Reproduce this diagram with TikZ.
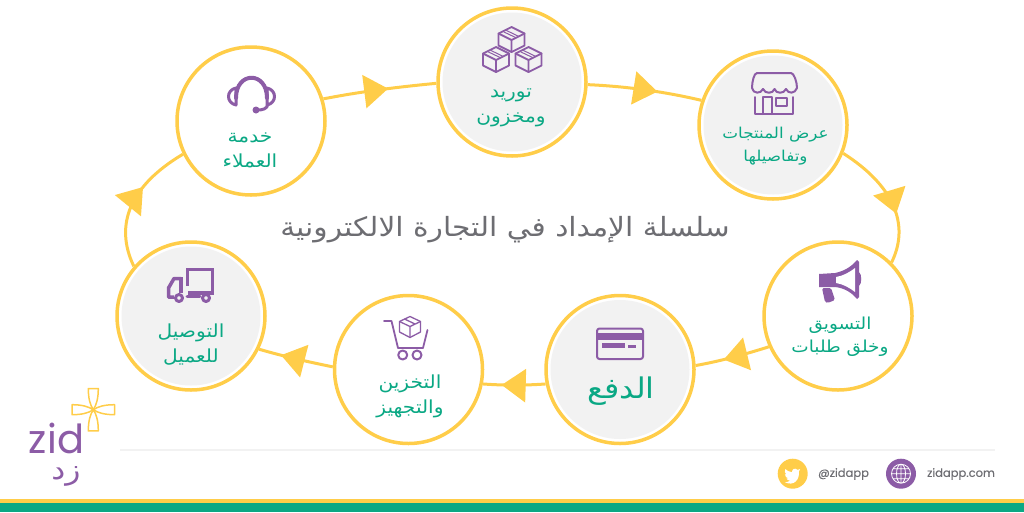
\documentclass[tikz,border=0pt]{standalone}
\usepackage{fontspec}
\usepackage{xcolor}
\usepackage{tikz}
\usetikzlibrary{arrows.meta, decorations.markings}
\newfontfamily\arabicfont[Script=Arabic,FakeStretch=1.12]{DejaVu Sans}
\newfontfamily\latinfont{Poppins}
\newfontfamily\footerfont[FakeBold=0.3]{Poppins}
\TeXXeTstate=1
\newcommand{\arline}[1]{\beginR #1\endR}
\definecolor{gold}{RGB}{255,205,73}
\definecolor{plum}{RGB}{140,92,166}
\definecolor{jade}{RGB}{10,168,132}
\definecolor{softgrey}{RGB}{242,242,242}
\definecolor{slate}{RGB}{109,109,114}
\tikzset{
  stage/.style={circle, draw=gold, line width=3.5pt, fill=white, minimum size=148pt, inner sep=0pt},
  stagelabel/.style={jade, align=center, inner sep=0pt, font=\arabicfont\fontsize{18}{25}\selectfont},
  link/.style={draw=gold, line width=3pt},
  flow/.style={postaction={decorate, decoration={markings, mark=at position #1 with {\arrow[gold]{Triangle[length=24pt,width=33pt]}}}}},
  iconline/.style={draw=plum, line width=2pt, line join=round, line cap=round},
  crate/.pic={
    \draw[iconline, line width=1.8pt] (0,-12.5) -- (13,-6) -- (13,6) -- (0,12.5) -- (-13,6) -- (-13,-6) -- cycle;
    \draw[iconline, line width=1.8pt] (-13,-6) -- (0,0.5) -- (13,-6) (0,0.5) -- (0,12.5);
    \draw[iconline, line width=1pt] (-5,-9) -- (7,-3.2) (-7.5,-7.5) -- (4.5,-1.8);
  }
}
\begin{document}
\begin{tikzpicture}[x=1pt, y=-1pt]
  \useasboundingbox (0,0) rectangle (1024,512);
  % Stages
  \node[stage] (supply) at (512,82) {};
  \node[stage] (shop) at (773,125) {};
  \node[stage] (market) at (838,316) {};
  \node[stage] (pay) at (620,369.5) {};
  \node[stage] (store) at (408.5,369.5) {};
  \node[stage] (deliver) at (191,316) {};
  \node[stage] (care) at (251,121) {};
  \foreach \n in {supply, shop, pay, deliver} \fill[softgrey] (\n) circle (69.5pt);
  % Connectors
  \draw[link, flow=0.61] (supply.-2) .. controls (625,86.3) and (663,91.3) .. (shop.161);
  \draw[link, flow=0.62] (shop.-22) .. controls (893,185) and (910.5,224) .. (market.45);
  \draw[link, flow=0.62] (market.204) .. controls (746,354) and (721,361) .. (pay.3);
  \draw[link, flow=0.7] (pay.191) .. controls (524,385.5) and (504,385.5) .. (store.-11);
  \draw[link, flow=0.7] (store.178) .. controls (309,362) and (284,356.5) .. (deliver.-26);
  \draw[link, flow=0.62] (deliver.139) .. controls (113.5,224) and (131,185) .. (care.206);
  \draw[link, flow=0.575] (care.17) .. controls (361,91.5) and (398,87) .. (supply.181);
  % Title
  \node[slate, font=\arabicfont\fontsize{26.5}{30}\selectfont, inner sep=0pt] (title) at (505,230) {\arline{سلسلة الإمداد في التجارة الالكترونية}};
  % Labels
  \node[stagelabel] (supply label) at (511,108) {\arline{توريد}\\\arline{ومخزون}};
  \node[stagelabel, font=\arabicfont\fontsize{15}{23}\selectfont] (shop label) at (775.5,146.5) {\arline{عرض المنتجات}\\\arline{وتفاصيلها}};
  \node[stagelabel, font=\arabicfont\fontsize{16.5}{23}\selectfont] (market label) at (840,336.5) {\arline{التسويق}\\\arline{وخلق طلبات}};
  \node[stagelabel, font=\arabicfont\fontsize{28.5}{32}\selectfont] (pay label) at (621,391) {\arline{الدفع}};
  \node[stagelabel] (store label) at (410,396) {\arline{التخزين}\\\arline{والتجهيز}};
  \node[stagelabel] (deliver label) at (191,344.5) {\arline{التوصيل}\\\arline{للعميل}};
  \node[stagelabel] (care label) at (250,150) {\arline{خدمة}\\\arline{العملاء}};
  % Boxes
  \pic at (511.5,39.5) {crate};
  \pic at (496,59.5) {crate};
  \pic at (528.5,59.5) {crate};
  % Shop front
  \draw[iconline] (757,73) -- (791,73) .. controls (794,73) and (797,82) .. (797,88)
    .. controls (795,94) and (788,94) .. (786,89) .. controls (784,94) and (776,94) .. (774.5,89)
    .. controls (773,94) and (765,94) .. (763,89) .. controls (761,94) and (753,94) .. (752,88)
    .. controls (752,82) and (754,73) .. (757,73) -- cycle;
  \draw[iconline] (755,97) -- (755,114) -- (793,114) -- (793,97);
  \draw[iconline] (763,114) -- (763,97) -- (772,97) -- (772,114);
  \draw[iconline] (775.5,97.5) rectangle (787,106);
  % Headset
  \draw[iconline, line width=4pt] (236,98) .. controls (236,71) and (267,71) .. (267,98);
  \draw[iconline, line width=3pt] (236,88) .. controls (226,90) and (226,103) .. (236,105) -- cycle;
  \draw[iconline, line width=3pt] (267,88) .. controls (277,90) and (277,103) .. (267,105) -- cycle;
  \draw[iconline, line width=3pt] (268,104) .. controls (267,109) and (263,110) .. (257,110);
  \fill[plum] (256,110) circle (3.5pt);
  % Megaphone
  \fill[plum] (819,274) -- (835,273) .. controls (845,271) and (852,266) .. (857,260) -- (859,262) -- (859,272)
    .. controls (862,274) and (862,284) .. (859,286) -- (859,297) -- (857,299) .. controls (852,293) and (845,288) .. (835,287)
    -- (819,287) -- cycle;
  \fill[white] (836,277) .. controls (843,276) and (850,272) .. (855,268) -- (855,292) .. controls (850,288) and (843,284) .. (836,283) -- cycle;
  \fill[plum, rounded corners=1.5pt] (822,288) -- (831,288) -- (835,300) -- (827.5,303) -- (825,302) -- cycle;
  % Card
  \draw[iconline, rounded corners=2.5pt] (597,328.5) rectangle (643,359);
  \fill[plum] (597,333) rectangle (643,340);
  \fill[plum] (602,343) rectangle (625,348);
  \fill[plum] (628,345) rectangle (636,347.5);
  % Cart
  \draw[iconline, line width=1.8pt] (384,321) -- (391.5,321) -- (398,348) -- (423,348) -- (427.5,330);
  \draw[iconline] (402.7,355) circle (4.5pt) (417,355) circle (4.5pt);
  \draw[iconline, line width=1.3pt] (410,316.5) -- (420.5,321.5) -- (420.5,332) -- (410,337.5) -- (399.5,332) -- (399.5,321.5) -- cycle;
  \draw[iconline, line width=1.3pt] (399.5,321.5) -- (410,326.5) -- (420.5,321.5) (410,326.5) -- (410,337.5) (404.5,319) -- (415,324);
  % Truck
  \draw[plum, line width=3.5pt] (187.5,286) -- (187.5,269.5) -- (212.5,269.5) -- (212.5,293) -- (187.5,293);
  \draw[plum, line width=3.5pt, line join=round] (181,278.5) -- (174,278.5) -- (168.5,288) -- (168.5,297) -- (174,297);
  \draw[plum, line width=3.5pt] (181,277) -- (181,293);
  \draw[iconline, line width=3pt] (187,296) -- (200,296);
  \draw[iconline, line width=3pt] (179,298) circle (3.5pt) (206,298) circle (3.5pt);
  % Logo
  \foreach \a in {0,90,180,270}
    \draw[gold, line width=1.5pt, line join=round, rotate around={\a:(93.3,409.7)}] (93.3,409.7) .. controls (90,405) and (88.3,398) .. (88.3,388.5)
      -- (98.3,388.5) .. controls (98.3,398) and (96.5,405) .. (93.3,409.7);
  \node[plum, font=\latinfont\fontsize{40}{42}\selectfont, inner sep=0pt] (logo latin) at (56.5,438) {zid};
  \node[plum, font=\arabicfont\fontsize{28}{30}\selectfont, inner sep=0pt] (logo arabic) at (66,476) {\arline{زد}};
  % Footer
  \draw[softgrey, line width=1.5pt] (120,450) -- (995,450);
  \fill[gold] (0,499) rectangle (1024,503);
  \fill[jade] (0,503) rectangle (1024,512);
  \node[circle, fill=gold, minimum size=30pt, inner sep=0pt] (twitter) at (792.7,473.7) {};
  \fill[white, scale around={0.8:(792.7,475)}] (802,467.5) .. controls (800,468.5) and (799,468.5) .. (798.5,468.5) .. controls (796,465.5) and (791,467.5) .. (792,471.5)
    .. controls (788,471.5) and (785,469) .. (783.5,467.5) .. controls (782,470) and (783,473) .. (785,474.5) .. controls (784,474.5) and (783.5,474.5) .. (783,474)
    .. controls (783,477) and (785,478.5) .. (787,479) .. controls (786,479.5) and (785.5,479.5) .. (785,479.5) .. controls (786,481) and (787.5,482) .. (789.5,482)
    .. controls (787.5,483.5) and (785.5,484) .. (783,484) .. controls (794,489.5) and (801.5,481) .. (800.5,470.5) -- cycle;
  \node[slate, font=\footerfont\fontsize{11.5}{14}\selectfont, inner sep=0pt] (handle) at (843.5,474) {@zidapp};
  \node[circle, fill=plum, minimum size=30pt, inner sep=0pt] (web) at (901,473.7) {};
  \draw[white, line width=0.8pt] (web) circle (9.5pt) (web) ellipse (4.5pt and 9.5pt) (891.5,473.7) -- (910.5,473.7) (901,464.2) -- (901,483.2)
    (893,468.7) -- (909,468.7) (893,478.7) -- (909,478.7);
  \node[slate, font=\footerfont\fontsize{11.5}{14}\selectfont, inner sep=0pt] (site) at (961,474) {zidapp.com};
\end{tikzpicture}
\end{document}
